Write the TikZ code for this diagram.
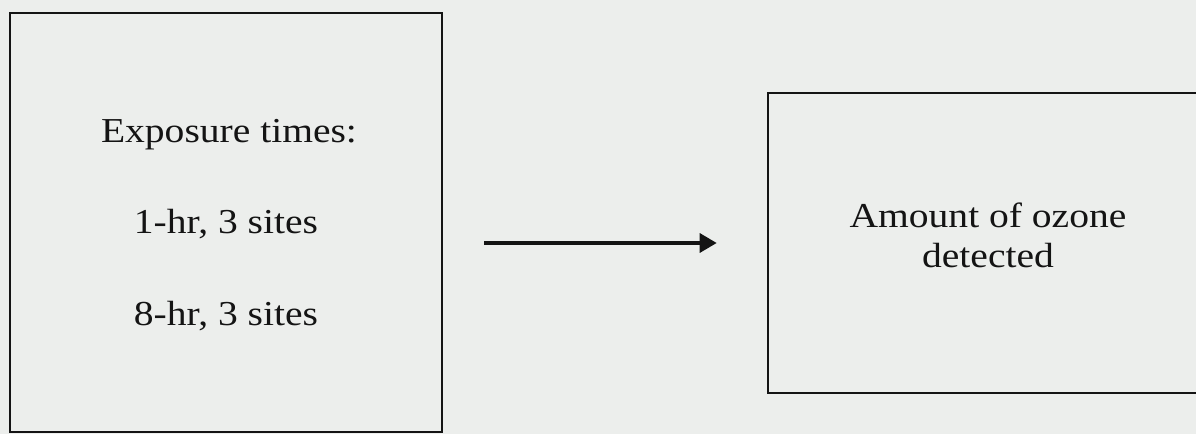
\documentclass[tikz,border=0pt]{standalone}
\usepackage{fontspec}
\setmainfont{Liberation Serif}[FakeStretch=1.13]
\usetikzlibrary{arrows.meta}
\definecolor{paper}{RGB}{236,238,236}
\definecolor{ink}{RGB}{20,20,20}
\begin{document}
\begin{tikzpicture}[x=1pt,y=1pt,
  boxstyle/.style={draw=ink, line width=2.6pt, inner sep=0pt, rectangle},
  lbl/.style={anchor=base, inner sep=0pt, text=ink, font=\fontsize{35}{40}\selectfont},
  arrowstyle/.style={draw=ink, line width=3.4pt, -{Triangle[length=17pt,width=19pt]}}]
\useasboundingbox (0,0) rectangle (1196,434);
\fill[paper] (0,0) rectangle (1196,434);
% left box
\node[boxstyle, minimum width=432pt, minimum height=419pt] (left) at (226,211.5) {};
\node[lbl] (t1) at (229,291) {Exposure times:};
\node[lbl] (t2) at (226,200) {1-hr, 3 sites};
\node[lbl] (t3) at (226,109) {8-hr, 3 sites};
% right box
\node[boxstyle, minimum width=442pt, minimum height=300pt] (right) at (989,191) {};
\node[lbl] (r1) at (988,206) {Amount of ozone};
\node[lbl] (r2) at (988,166) {detected};
% arrow
\draw[arrowstyle, shorten <=41pt, shorten >=50pt] (left.east |- right.west) -- (right.west);
\end{tikzpicture}
\end{document}
